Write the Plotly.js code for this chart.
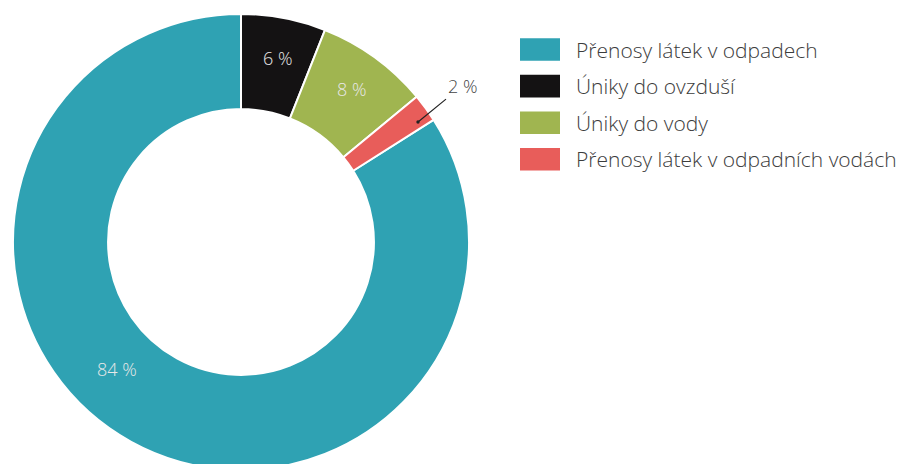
<!DOCTYPE html>
<html>
<head>
<meta charset="utf-8">
<script src="https://cdn.plot.ly/plotly-3.0.1.min.js"></script>
<style>html,body{margin:0;padding:0;overflow:hidden;background:#fff;}</style>
</head>
<body>
<div id="chart" style="width:905px;height:470px;"></div>
<script>
const categories = ["Přenosy látek v odpadech", "Úniky do ovzduší", "Úniky do vody", "Přenosy látek v odpadních vodách"];
const values = [84, 6, 8, 2];
const colors = ["#2fa2b3", "#141213", "#a0b550", "#e85d5a"];
const labelText = values.map(v => v + " %");

const W = 905, H = 470;
const px = x => x / W;
const py = y => (H - y) / H;

// label positions (pixel) for each slice label
const labelPos = [[117, 369], [277, 58], [351, 89], null];

const annotations = [];
labelPos.forEach((p, i) => {
  if (p) {
    annotations.push({
      xref: "paper", yref: "paper", x: px(p[0]), y: py(p[1]),
      text: labelText[i], showarrow: false,
      font: {family: "Open Sans", size: 18, weight: 300, color: "#e8e8e8"},
      xanchor: "center", yanchor: "middle"
    });
  }
});
// small slice with leader line
annotations.push({
  xref: "paper", yref: "paper", x: px(418), y: py(122),
  text: labelText[3], showarrow: true, arrowhead: 6, arrowsize: 0.7, arrowwidth: 1.2,
  arrowcolor: "#222", ax: 44, ay: -36, standoff: 0,
  font: {family: "Open Sans", size: 18, weight: 300, color: "#444"}
});

// custom legend
const shapes = [];
const legTop = 49.5, legStep = 36.6;
categories.forEach((c, i) => {
  const cy = legTop + i * legStep;
  shapes.push({
    type: "rect", xref: "paper", yref: "paper",
    x0: px(520), x1: px(560), y0: py(cy - 11.3), y1: py(cy + 11.3),
    fillcolor: colors[i], line: {width: 0}
  });
  annotations.push({
    xref: "paper", yref: "paper", x: px(574), y: py(cy),
    text: c, showarrow: false, xanchor: "left", yanchor: "middle",
    font: {family: "Open Sans", size: 21, weight: 300, color: "#3c3c3c"}
  });
});

const trace = {
  type: "pie",
  labels: categories,
  values: values,
  sort: false,
  direction: "clockwise",
  rotation: 57.6,
  hole: 0.583,
  marker: {colors: colors, line: {color: "#ffffff", width: 2}},
  textinfo: "none",
  hoverinfo: "label+percent",
  domain: {x: [px(13), px(469)], y: [py(470), py(14)]},
  showlegend: false
};

const layout = {
  width: W, height: H,
  margin: {l: 0, r: 0, t: 0, b: 0},
  paper_bgcolor: "#ffffff",
  showlegend: false,
  annotations: annotations,
  shapes: shapes
};

Plotly.newPlot("chart", [trace], layout, {displayModeBar: false, staticPlot: true});
</script>
</body>
</html>
